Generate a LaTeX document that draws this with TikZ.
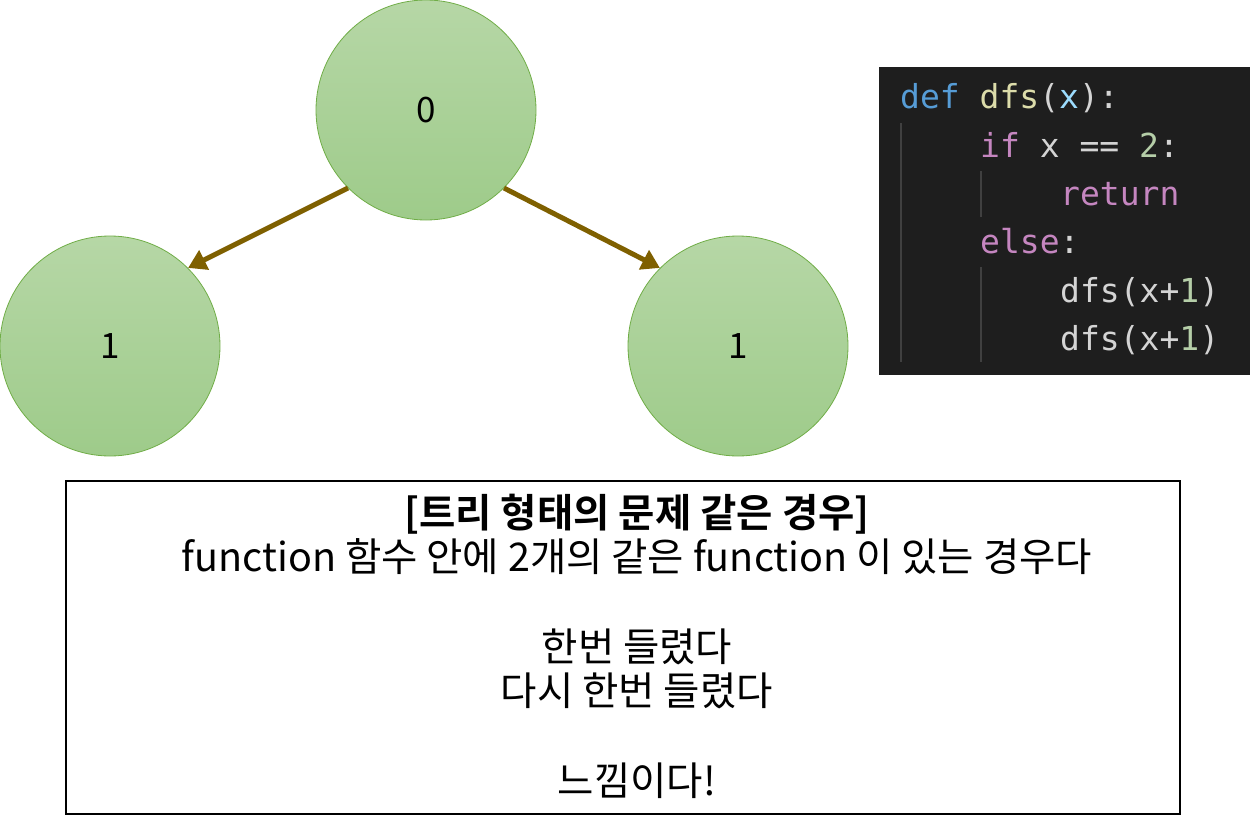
\documentclass[tikz,border=0pt]{standalone}
\usepackage{fontspec}
\setmainfont{Noto Sans CJK KR}[BoldFont={Noto Sans CJK KR Bold}]
\newfontfamily\codefont{DejaVu Sans Mono}
\usetikzlibrary{arrows.meta}
\definecolor{leafborder}{RGB}{112,173,71}
\definecolor{leaftop}{RGB}{182,215,166}
\definecolor{leafbottom}{RGB}{158,203,138}
\definecolor{edgebrown}{RGB}{127,96,0}
\definecolor{codebg}{RGB}{30,30,30}
\definecolor{codeguide}{RGB}{64,64,64}
\definecolor{kwblue}{RGB}{86,156,214}
\definecolor{fnyellow}{RGB}{220,220,170}
\definecolor{varblue}{RGB}{156,220,254}
\definecolor{kwpink}{RGB}{197,134,192}
\definecolor{numgreen}{RGB}{181,206,168}
\definecolor{plain}{RGB}{212,212,212}
\tikzset{
  leaf/.style={circle, draw=leafborder, line width=0.8pt, minimum size=220pt,
    inner sep=0pt, top color=leaftop, bottom color=leafbottom,
    font=\fontsize{35}{40}\selectfont},
  call/.style={draw=edgebrown, line width=5pt, -{Triangle[width=21pt,length=18pt]}},
  codeline/.style={anchor=base west, inner sep=0pt, text=plain,
    font=\codefont\fontsize{33}{40}\selectfont},
  guide/.style={draw=codeguide, line width=1.5pt}
}
\begin{document}
\begin{tikzpicture}[x=1pt,y=-1pt]
                \useasboundingbox (0,0) rectangle (1250,827);
                % tree
                \node[leaf] (A) at (426,110) {0};
                \node[leaf] (B) at (110,346) {1};
                \node[leaf] (C) at (738,346) {1};
                \draw[call] (A.225) -- (B.45);
                \draw[call] (A.-45) -- (C.135);

                % code
                \node[fill=codebg, minimum width=371pt, minimum height=308pt, inner sep=0pt] (code) at (1064.5,221) {};
                \coordinate (g1) at (901,123);
                \coordinate (g1e) at (901,362);
                \coordinate (g2) at (981,171);
                \coordinate (g2e) at (981,217);
                \coordinate (g3) at (981,267);
                \coordinate (g3e) at (981,362);
                \draw[guide] (g1) -- (g1e);
                \draw[guide] (g2) -- (g2e);
                \draw[guide] (g3) -- (g3e);
                \node[codeline] (l1) at (900,108) {\textcolor{kwblue}{def} \textcolor{fnyellow}{dfs}(\textcolor{varblue}{x}):};
                \node[codeline] (l2) at (980,157) {\textcolor{kwpink}{if} x == \textcolor{numgreen}{2}:};
                \node[codeline] (l3) at (1060,205) {\textcolor{kwpink}{return}};
                \node[codeline] (l4) at (980,253) {\textcolor{kwpink}{else}:};
                \node[codeline] (l5) at (1060,302) {dfs(x+\textcolor{numgreen}{1})};
                \node[codeline] (l6) at (1060,350) {dfs(x+\textcolor{numgreen}{1})};

                % explanation
                \node[draw, line width=2pt, minimum width=1114pt, minimum height=333pt, inner sep=0pt] (box) at (623,647.5) {};
                \node[align=center, font=\fontsize{39.5}{44.7}\selectfont] (note) at (637,646)
                  {\textbf{[트리 형태의 문제 같은 경우]}\\
                   function 함수 안에 2개의 같은 function 이 있는 경우다\\[44.7pt]
                   한번 들렸다\\
                   다시 한번 들렸다\\[44.7pt]
                   느낌이다!};
            \end{tikzpicture}
\end{document}
